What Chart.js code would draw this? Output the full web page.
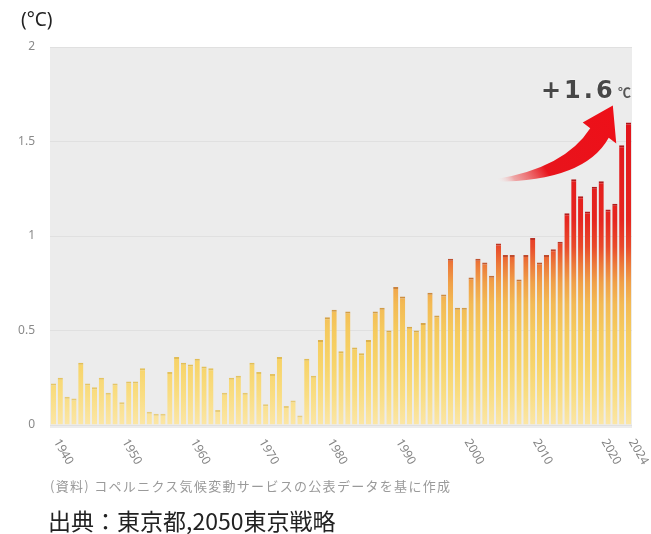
<!DOCTYPE html>
<html><head><meta charset="utf-8">
<script src="https://cdn.jsdelivr.net/npm/chart.js@4.4.1/dist/chart.umd.min.js"></script>
<style>
html,body{margin:0;padding:0;background:#fff;}
#wrap{position:relative;width:651px;height:534px;overflow:hidden;font-family:"Noto Sans CJK JP","Noto Sans",sans-serif;}
#c{position:absolute;left:0;top:0;}
.t{position:absolute;white-space:nowrap;line-height:1;}
</style></head><body>
<div id="wrap">
<canvas id="c" width="651" height="534"></canvas>
<div class="t" style="left:21px;top:10px;font-size:19px;color:#222;font-family:'Noto Sans','Noto Sans CJK JP',sans-serif;">(°C)</div>
<div class="t" style="left:541px;top:78px;font-size:24px;font-weight:bold;color:#474747;letter-spacing:3px;font-family:'DejaVu Sans',sans-serif;text-shadow:0 0 2px #fff;">+1.6</div>
<div class="t" style="left:618px;top:85px;font-size:13px;font-weight:bold;color:#555;">℃</div>
<div class="t" style="left:50px;top:479px;font-size:13px;color:#9a9a9a;letter-spacing:1.3px;">(資料) コペルニクス気候変動サービスの公表データを基に作成</div>
<div class="t" style="left:48px;top:509px;font-size:23px;color:#222;">出典：東京都,2050東京戦略</div>
</div>
<script>
const years = ['1940','1941','1942','1943','1944','1945','1946','1947','1948','1949',
  '1950','1951','1952','1953','1954','1955','1956','1957','1958','1959',
  '1960','1961','1962','1963','1964','1965','1966','1967','1968','1969',
  '1970','1971','1972','1973','1974','1975','1976','1977','1978','1979',
  '1980','1981','1982','1983','1984','1985','1986','1987','1988','1989',
  '1990','1991','1992','1993','1994','1995','1996','1997','1998','1999',
  '2000','2001','2002','2003','2004','2005','2006','2007','2008','2009',
  '2010','2011','2012','2013','2014','2015','2016','2017','2018','2019',
  '2020','2021','2022','2023','2024'];
const anomaly = [0.22,0.25,0.15,0.14,0.33,0.22,0.20,0.25,0.17,0.22,
  0.12,0.23,0.23,0.30,0.07,0.06,0.06,0.28,0.36,0.33,
  0.32,0.35,0.31,0.30,0.08,0.17,0.25,0.26,0.17,0.33,
  0.28,0.11,0.27,0.36,0.10,0.13,0.05,0.35,0.26,0.45,
  0.57,0.61,0.39,0.60,0.41,0.38,0.45,0.60,0.62,0.50,
  0.73,0.68,0.52,0.50,0.54,0.70,0.58,0.69,0.88,0.62,
  0.62,0.78,0.88,0.86,0.79,0.96,0.90,0.90,0.77,0.90,
  0.99,0.86,0.90,0.93,0.97,1.12,1.30,1.21,1.13,1.26,
  1.29,1.14,1.17,1.48,1.60];
const xTickLabels = ['1940','1950','1960','1970','1980','1990','2000','2010','2020','2024'];
const yTickValues = [0,0.5,1,1.5,2];
const yTickLabels = ['0','0.5','1','1.5','2'];

function makeGrad(chart, stops){
  const {chartArea, scales} = chart;
  if(!chartArea) return null;
  const y0 = scales.y.getPixelForValue(0);
  const y1 = scales.y.getPixelForValue(1.6);
  const g = chart.ctx.createLinearGradient(0,y0,0,y1);
  stops.forEach(s=>g.addColorStop(s[0],s[1]));
  return g;
}
const fillStops = [[0,'#fbe6a6'],[0.1,'#f9dd82'],[0.2,'#f7d46a'],[0.31,'#f5ca5e'],[0.4,'#f3ba54'],[0.47,'#f0a048'],[0.53,'#ec7a3a'],[0.59,'#e94a2b'],[0.68,'#e62620'],[1,'#e2141c']];
const edgeStops = [[0,'#e9d085'],[0.2,'#e3c057'],[0.31,'#d9ac4c'],[0.4,'#d09845'],[0.47,'#c87c3c'],[0.53,'#c25a32'],[0.6,'#bb3526'],[0.7,'#b41c1c'],[1,'#ae141a']];

const bgPlugin = {
  id:'bg',
  beforeDraw(chart){
    const {ctx, chartArea:a} = chart;
    ctx.save(); ctx.fillStyle='#ececec';
    ctx.fillRect(a.left, a.top, a.right-a.left, a.bottom-a.top+3);
    ctx.restore();
  }
};
const xLabelPlugin = {
  id:'xlabels',
  afterDraw(chart){
    const {ctx, chartArea:a, scales:{x}} = chart;
    ctx.save();
    ctx.font = '12px "Noto Sans", sans-serif';
    ctx.fillStyle = '#858585';
    ctx.textAlign = 'left'; ctx.textBaseline = 'middle';
    xTickLabels.forEach(l=>{
      const px = x.getPixelForValue(years.indexOf(l));
      ctx.save(); ctx.translate(px+3, a.bottom+15); ctx.rotate(Math.PI/3);
      ctx.fillText(l,0,0); ctx.restore();
    });
    ctx.restore();
  }
};
const arrowPlugin = {
  id:'arrow',
  afterDatasetsDraw(chart){
    const {ctx, scales:{x,y}} = chart;
    const P = (i,v)=>[x.getPixelForValue(i), y.getPixelForValue(v)];
    const tail=P(64.5,1.30), c1=P(74.7,1.36), sl=P(78.4,1.57), L=P(77.3,1.60),
          T=P(81.7,1.69), R=P(82.2,1.49), sr=P(81.1,1.52), c2=P(77.6,1.29), tail2=P(64.5,1.287);
    ctx.save();
    const g = ctx.createLinearGradient(tail[0],tail[1],T[0],T[1]);
    g.addColorStop(0,'rgba(255,255,255,0)');
    g.addColorStop(0.12,'rgba(240,80,80,0.45)');
    g.addColorStop(0.35,'#e8141c');
    g.addColorStop(1,'#ee0f18');
    ctx.fillStyle = g;
    ctx.beginPath();
    ctx.moveTo(tail[0],tail[1]);
    ctx.quadraticCurveTo(c1[0],c1[1],sl[0],sl[1]);
    ctx.lineTo(L[0],L[1]); ctx.lineTo(T[0],T[1]); ctx.lineTo(R[0],R[1]); ctx.lineTo(sr[0],sr[1]);
    ctx.quadraticCurveTo(c2[0],c2[1],tail2[0],tail2[1]);
    ctx.closePath(); ctx.fill();
    ctx.restore();
  }
};

new Chart(document.getElementById('c'), {
  type:'bar',
  data:{labels:years, datasets:[{
    data:anomaly,
    backgroundColor:(c)=>makeGrad(c.chart, fillStops),
    borderColor:(c)=>makeGrad(c.chart, edgeStops),
    borderWidth:{top:2,left:0,right:0,bottom:0},
    borderSkipped:'start',
    barPercentage:0.76, categoryPercentage:1
  }]},
  options:{
    responsive:false, animation:false, devicePixelRatio:1,
    layout:{padding:{top:47,right:19,left:0,bottom:0}},
    plugins:{legend:{display:false}, tooltip:{enabled:false}},
    scales:{
      x:{ticks:{display:false}, grid:{display:false}, border:{display:false},
         afterFit:(s)=>{s.height=109;}},
      y:{min:0,max:2,
         afterBuildTicks:(s)=>{s.ticks = yTickValues.map(v=>({value:v}));},
         ticks:{color:'#8a8a8a', font:{size:12, family:'"Noto Sans", sans-serif'}, padding:15,
                callback:(v)=>{const i=yTickValues.indexOf(v); return i>=0?yTickLabels[i]:'';}},
         grid:{color:'rgba(0,0,0,0.05)', drawTicks:false}, border:{display:false},
         afterFit:(s)=>{s.width=50;}}
    }
  },
  plugins:[bgPlugin, xLabelPlugin, arrowPlugin]
});
</script>
</body></html>
